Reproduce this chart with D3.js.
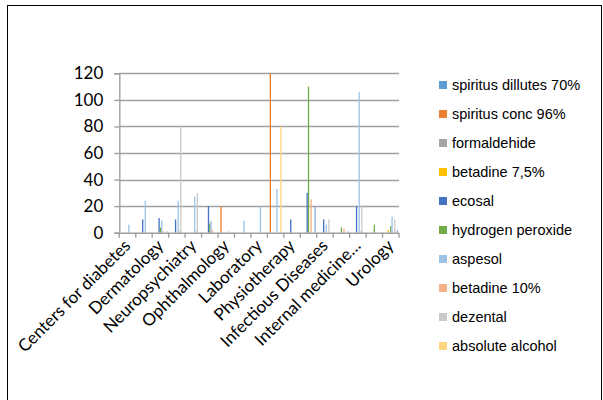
<!DOCTYPE html>
<html>
<head>
<meta charset="utf-8">
<script src="https://cdn.jsdelivr.net/npm/d3@7"></script>
<style>
  html, body { margin: 0; padding: 0; background: #fff; }
  svg { display: block; }
</style>
</head>
<body>
<svg id="chart" width="603" height="400"></svg>
<script>
// ---- data ----
const categories = [
  "Centers for diabetes", "Cardiology", "Dermatology", "Neurology",
  "Neuropsychiatry", "Oncology", "Ophthalmology", "Gynecology",
  "Laboratory", "Pediatrics", "Physiotherapy", "Surgery",
  "Infectious Diseases", "Emergency", "Internal medicine…", "Orthopedics",
  "Urology"
];
const seriesNames = [
  "spiritus dillutes 70%", "spiritus conc 96%", "formaldehide", "betadine 7,5%",
  "ecosal", "hydrogen peroxide", "aspesol", "betadine 10%", "dezental",
  "absolute alcohol", "other"
];
const spiritusDillutes = [0,0,0,0,0,0,0,0,0,0,0,0,0,0,0,0,0];
const spiritusConc     = [0,0,0,0,0,0,20,0,0,120,0,0,0,0,0,0,0];
const formaldehide     = [0,0,0,0,0,0,0,0,0,0,0,0,0,0,0,0,0];
const betadine75       = [0,0,0,0,0,0,0,0,0,0,0,0,0,0,0,0,2];
const ecosal           = [0,10,11,10,0,20,0,0,0,0,10,30,10,0,20,0,0];
const hydrogenPeroxide = [0,0,4,0,0,7,0,0,0,0,0,110,0,4,0,6,5];
const aspesol          = [6,24,9,24,27,9,0,9,20,33,0,0,6,0,106,0,12];
const betadine10       = [0,0,1,1,1,2,1,0,0,0,0,25,0,3,1,0,0];
const dezental         = [0,0,0,80,30,0,0,0,0,0,0,0,10,0,20,0,10];
const absoluteAlcohol  = [0,0,0,0,0,0,0,0,0,80,0,0,0,0,0,0,0];
const other            = [0,0,1,0,0,0,0,0,0,0,0,20,0,1,0,0,2];
const yTicks = [0, 20, 40, 60, 80, 100, 120];
const legendCount = 10; // legend shows the first ten series

const seriesValues = [spiritusDillutes, spiritusConc, formaldehide, betadine75, ecosal,
  hydrogenPeroxide, aspesol, betadine10, dezental, absoluteAlcohol, other];
const colors = ["#5B9BD5", "#ED7D31", "#A5A5A5", "#FFC000", "#4472C4", "#70AD47",
  "#9DC3E6", "#F4B183", "#C9C9C9", "#FFD580", "#8FAADC"];

// ---- layout ----
const svg = d3.select("#chart");
const plot = { left: 119.3, right: 399, top: 73.3, bottom: 232.7 };

// outer chart border (bottom edge lies below the visible area)
svg.append("rect").attr("x", 7.5).attr("y", 5.5).attr("width", 594).attr("height", 400)
  .attr("fill", "none").attr("stroke", "#000").attr("stroke-width", 1);

const x0 = d3.scaleBand().domain(categories).range([plot.left, plot.right]).padding(0);
const x1 = d3.scaleBand().domain(d3.range(seriesNames.length))
  .range([0, x0.bandwidth()]).paddingInner(0).paddingOuter(0.75);
const y = d3.scaleLinear().domain([0, 120]).range([plot.bottom, plot.top]);

// gridlines
svg.append("g").selectAll("line").data(yTicks.filter(d => d > 0)).join("line")
  .attr("x1", plot.left).attr("x2", plot.right)
  .attr("y1", d => Math.round(y(d)) + 0.5).attr("y2", d => Math.round(y(d)) + 0.5)
  .attr("stroke", "#A0A0A0").attr("stroke-width", 1.4);

// y axis
const yAxis = svg.append("g").attr("transform", `translate(${plot.left},0)`)
  .call(d3.axisLeft(y).tickValues(yTicks).tickSize(5).tickPadding(11));
yAxis.select(".domain").attr("stroke", "#A0A0A0").attr("stroke-width", 1.4);
yAxis.selectAll(".tick line").attr("stroke", "#A0A0A0").attr("stroke-width", 1.4);
yAxis.selectAll(".tick text").attr("font-family", "Lato, 'Open Sans', sans-serif")
  .attr("font-size", 17).attr("fill", "#000");

// bars
const groups = svg.append("g").selectAll("g").data(seriesValues).join("g")
  .attr("fill", (d, i) => colors[i]);
groups.each(function(vals, si) {
  d3.select(this).selectAll("rect").data(vals.map((v, ci) => ({ v, ci })))
    .join("rect")
    .filter(d => d.v > 0)
    .attr("x", d => x0(categories[d.ci]) + x1(si))
    .attr("width", x1.bandwidth())
    .attr("y", d => y(d.v))
    .attr("height", d => y(0) - y(d.v));
});

// x axis
const xAxis = svg.append("g").attr("transform", `translate(0,${plot.bottom})`);
xAxis.append("line").attr("x1", plot.left).attr("x2", plot.right)
  .attr("y1", 0.5).attr("y2", 0.5).attr("stroke", "#A0A0A0").attr("stroke-width", 1.4);
const boundaries = categories.map(c => x0(c)).concat([plot.right]);
xAxis.selectAll("line.tk").data(boundaries).join("line").attr("class", "tk")
  .attr("x1", d => d).attr("x2", d => d).attr("y1", 0).attr("y2", 5)
  .attr("stroke", "#A0A0A0").attr("stroke-width", 1.4);
xAxis.selectAll("text").data(categories.filter((c, i) => i % 2 === 0)).join("text")
  .attr("transform", d => `translate(${x0(d) + x0.bandwidth() / 2 + 4},${14}) rotate(-45)`)
  .attr("text-anchor", "end")
  .attr("font-family", "Lato, 'Open Sans', sans-serif")
  .attr("font-size", 17).attr("fill", "#000")
  .text(d => d);

// legend
const legend = svg.append("g");
const lg = legend.selectAll("g").data(seriesNames.slice(0, legendCount)).join("g")
  .attr("transform", (d, i) => `translate(439,${85 + i * 29})`);
lg.append("rect").attr("x", 0).attr("y", -4).attr("width", 8).attr("height", 8)
  .attr("fill", (d, i) => colors[i]);
lg.append("text").attr("x", 13).attr("y", 0).attr("dy", "0.35em")
  .attr("font-family", "'Liberation Sans', Arial, sans-serif").attr("font-size", 14.5)
  .attr("fill", "#000").text(d => d);
</script>
</body>
</html>
